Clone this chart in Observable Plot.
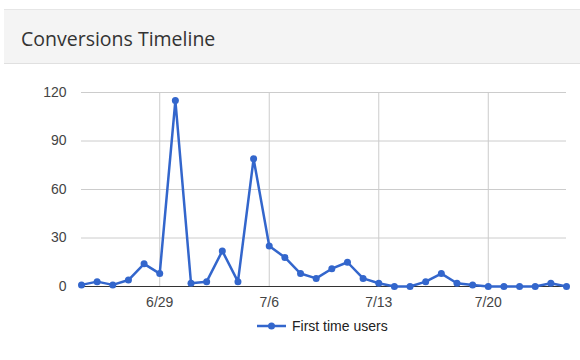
<!DOCTYPE html>
<html>
<head>
<meta charset="utf-8">
<script src="https://cdn.jsdelivr.net/npm/d3@7"></script>
<script src="https://cdn.jsdelivr.net/npm/@observablehq/plot@0.6"></script>
<style>
  html, body { margin: 0; padding: 0; background: #fff; width: 580px; height: 360px; overflow: hidden; }
  #header { position: absolute; left: 4px; top: 9px; width: 576px; height: 55px; background: #f4f4f4;
            border-top: 1px solid #e6e6e6; border-bottom: 1px solid #e0e0e0; box-sizing: border-box; }
  #title { position: absolute; left: 17px; top: 15px; font-family: "Open Sans", "Noto Sans", sans-serif;
           font-size: 19.5px; color: #333; }
  #chart { position: absolute; left: 0; top: 70px; }
  #legend { position: absolute; left: 257px; top: 318px; font-family: "Liberation Sans", Arial, sans-serif;
            font-size: 14px; color: #222; display: flex; align-items: center; }
  #legend svg { margin-right: 6px; }
</style>
</head>
<body>
<div id="header"><div id="title">Conversions Timeline</div></div>
<div id="chart"></div>
<div id="legend"><svg width="29" height="10"><line x1="0" y1="5" x2="29" y2="5" stroke="#3366cc" stroke-width="2.5"/><circle cx="14.5" cy="5" r="3.5" fill="#3366cc"/></svg><span>First time users</span></div>
<script>
const startDate = "2019-06-24";
const values = [1, 3, 1, 4, 14, 8, 115, 2, 3, 22, 3, 79, 25, 18, 8, 5, 11, 15, 5, 2, 0, 0, 3, 8, 2, 1, 0, 0, 0, 0, 2, 0];
const seriesName = "First time users";
const yTicks = [0, 30, 60, 90, 120];
const xTickDates = ["2019-06-29", "2019-07-06", "2019-07-13", "2019-07-20"];

const parse = d3.utcParse("%Y-%m-%d");
const start = parse(startDate);
const data = values.map((v, i) => ({date: d3.utcDay.offset(start, i), value: v}));
const xTicks = xTickDates.map(parse);
const fmt = d3.utcFormat("%-m/%-d");

const chart = Plot.plot({
  width: 580,
  height: 240,
  marginLeft: 81,
  marginRight: 14,
  marginTop: 22,
  marginBottom: 24,
  style: {fontFamily: "'Liberation Sans', Arial, sans-serif", fontSize: "14px", color: "#444", background: "transparent"},
  x: {type: "utc", domain: [data[0].date, data[data.length - 1].date]},
  y: {domain: [0, 120]},
  marks: [
    Plot.gridY(yTicks, {stroke: "#cccccc", strokeOpacity: 1}),
    Plot.gridX(xTicks, {stroke: "#cccccc", strokeOpacity: 1}),
    Plot.axisY(yTicks, {tickSize: 0, tickPadding: 15, label: null, fill: "#444"}),
    Plot.axisX(xTicks, {tickSize: 0, tickPadding: 11, label: null, tickFormat: fmt, fill: "#444"}),
    Plot.ruleY([0], {stroke: "#333"}),
    Plot.line(data, {x: "date", y: "value", stroke: "#3366cc", strokeWidth: 2.5}),
    Plot.dot(data, {x: "date", y: "value", fill: "#3366cc", r: 3.5})
  ]
});
document.getElementById("chart").appendChild(chart);
</script>
</body>
</html>
